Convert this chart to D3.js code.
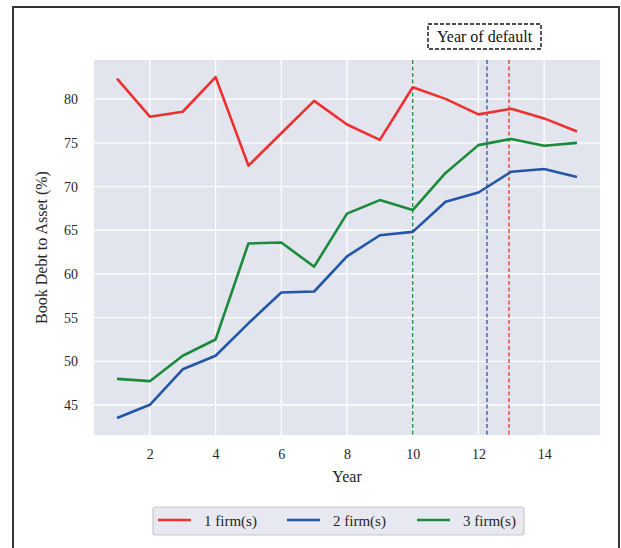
<!DOCTYPE html>
<html>
<head>
<meta charset="utf-8">
<script src="https://cdn.jsdelivr.net/npm/d3@7"></script>
<style>
  html, body { margin: 0; padding: 0; background: #fff; }
  svg { display: block; font-family: "Liberation Serif", "Times New Roman", serif; }
</style>
</head>
<body>
<svg id="chart" width="621" height="548"></svg>
<script>
// Book debt-to-asset ratio (%) by year, per number of defaulting firms
const years = [1, 2, 3, 4, 5, 6, 7, 8, 9, 10, 11, 12, 13, 14, 15];
const firm1 = [82.35, 77.99, 78.56, 82.53, 72.39, 76.1, 79.8, 77.1, 75.34, 81.36, 80.03, 78.26, 78.9, 77.8, 76.3];
const firm2 = [43.52, 45.03, 49.09, 50.64, 54.35, 57.88, 57.99, 62.0, 64.43, 64.81, 68.26, 69.32, 71.7, 72.0, 71.1];
const firm3 = [47.99, 47.73, 50.64, 52.5, 63.49, 63.6, 60.83, 66.9, 68.45, 67.31, 71.56, 74.74, 75.45, 74.66, 75.0];
const seriesNames = ["1 firm(s)", "2 firm(s)", "3 firm(s)"];
const seriesColors = ["#ee3030", "#2456a8", "#1b8a3a"];
// Average year of default for each group
const defaultYears = [12.93, 12.26, 10.0];
const xTicks = [2, 4, 6, 8, 10, 12, 14];
const yTicks = [45, 50, 55, 60, 65, 70, 75, 80];

const series = [firm1, firm2, firm3];
const svg = d3.select("#chart");

// outer frame
svg.append("rect")
  .attr("x", 13).attr("y", 7).attr("width", 606).attr("height", 560)
  .attr("fill", "none").attr("stroke", "#333").attr("stroke-width", 2);

const plot = { left: 94, right: 600, top: 60, bottom: 435 };

const allVals = firm1.concat(firm2, firm3);
const yMin = d3.min(allVals), yMax = d3.max(allVals);
const yPad = (yMax - yMin) * 0.05;
const xPad = (d3.max(years) - d3.min(years)) * 0.05;

const x = d3.scaleLinear()
  .domain([d3.min(years) - xPad, d3.max(years) + xPad])
  .range([plot.left, plot.right]);
const y = d3.scaleLinear()
  .domain([yMin - yPad, yMax + yPad])
  .range([plot.bottom, plot.top]);

// plot background
svg.append("rect")
  .attr("x", plot.left).attr("y", plot.top)
  .attr("width", plot.right - plot.left).attr("height", plot.bottom - plot.top)
  .attr("fill", "#e2e4ee");

// grid lines
const grid = svg.append("g");
grid.selectAll("line.v").data(xTicks).join("line")
  .attr("x1", d => x(d)).attr("x2", d => x(d))
  .attr("y1", plot.top).attr("y2", plot.bottom)
  .attr("stroke", "#fff").attr("stroke-width", 1.3);
grid.selectAll("line.h").data(yTicks).join("line")
  .attr("x1", plot.left).attr("x2", plot.right)
  .attr("y1", d => y(d)).attr("y2", d => y(d))
  .attr("stroke", "#fff").attr("stroke-width", 1.3);

// axes (labels only)
const xAxis = svg.append("g")
  .attr("transform", `translate(0,${plot.bottom})`)
  .call(d3.axisBottom(x).tickValues(xTicks).tickSize(0).tickPadding(14));
const yAxis = svg.append("g")
  .attr("transform", `translate(${plot.left},0)`)
  .call(d3.axisLeft(y).tickValues(yTicks).tickSize(0).tickPadding(16));
[xAxis, yAxis].forEach(a => {
  a.select(".domain").remove();
  a.selectAll("text")
    .attr("font-family", "Liberation Serif, serif")
    .attr("font-size", 14).attr("fill", "#262626");
});

svg.append("text")
  .attr("x", (plot.left + plot.right) / 2).attr("y", 482)
  .attr("text-anchor", "middle").attr("font-size", 16).attr("fill", "#262626")
  .text("Year");
svg.append("text")
  .attr("transform", `translate(47,${(plot.top + plot.bottom) / 2}) rotate(-90)`)
  .attr("text-anchor", "middle").attr("font-size", 16).attr("fill", "#262626")
  .text("Book Debt to Asset (%)");

// default-year markers
svg.append("g").selectAll("line").data(defaultYears).join("line")
  .attr("x1", d => x(d)).attr("x2", d => x(d))
  .attr("y1", plot.top).attr("y2", plot.bottom)
  .attr("stroke", (d, i) => seriesColors[i])
  .attr("stroke-width", 1.3)
  .attr("stroke-dasharray", "4,2.5");

// series lines
const line = d3.line().x((d, i) => x(years[i])).y(d => y(d));
svg.append("g").selectAll("path").data(series).join("path")
  .attr("d", line)
  .attr("fill", "none")
  .attr("stroke", (d, i) => seriesColors[i])
  .attr("stroke-width", 2.6)
  .attr("stroke-linejoin", "round");

// "Year of default" annotation
svg.append("rect")
  .attr("x", 428).attr("y", 24).attr("width", 113).attr("height", 25)
  .attr("fill", "#fff").attr("stroke", "#111").attr("stroke-width", 1.4)
  .attr("stroke-dasharray", "4,2");
svg.append("text")
  .attr("x", 484.5).attr("y", 42)
  .attr("text-anchor", "middle").attr("font-size", 16).attr("fill", "#111")
  .text("Year of default");

// legend
const legend = svg.append("g");
legend.append("rect")
  .attr("x", 153).attr("y", 507).attr("width", 371).attr("height", 28)
  .attr("rx", 3)
  .attr("fill", "#e8e9f0").attr("stroke", "#c8c8c8").attr("stroke-width", 1.2);
const legendX = [158, 287, 417];
seriesNames.forEach((name, i) => {
  legend.append("line")
    .attr("x1", legendX[i]).attr("x2", legendX[i] + 33)
    .attr("y1", 520).attr("y2", 520)
    .attr("stroke", seriesColors[i]).attr("stroke-width", 2.6);
  legend.append("text")
    .attr("x", legendX[i] + 46).attr("y", 525.5)
    .attr("font-size", 15).attr("fill", "#262626")
    .text(name);
});
</script>
</body>
</html>
